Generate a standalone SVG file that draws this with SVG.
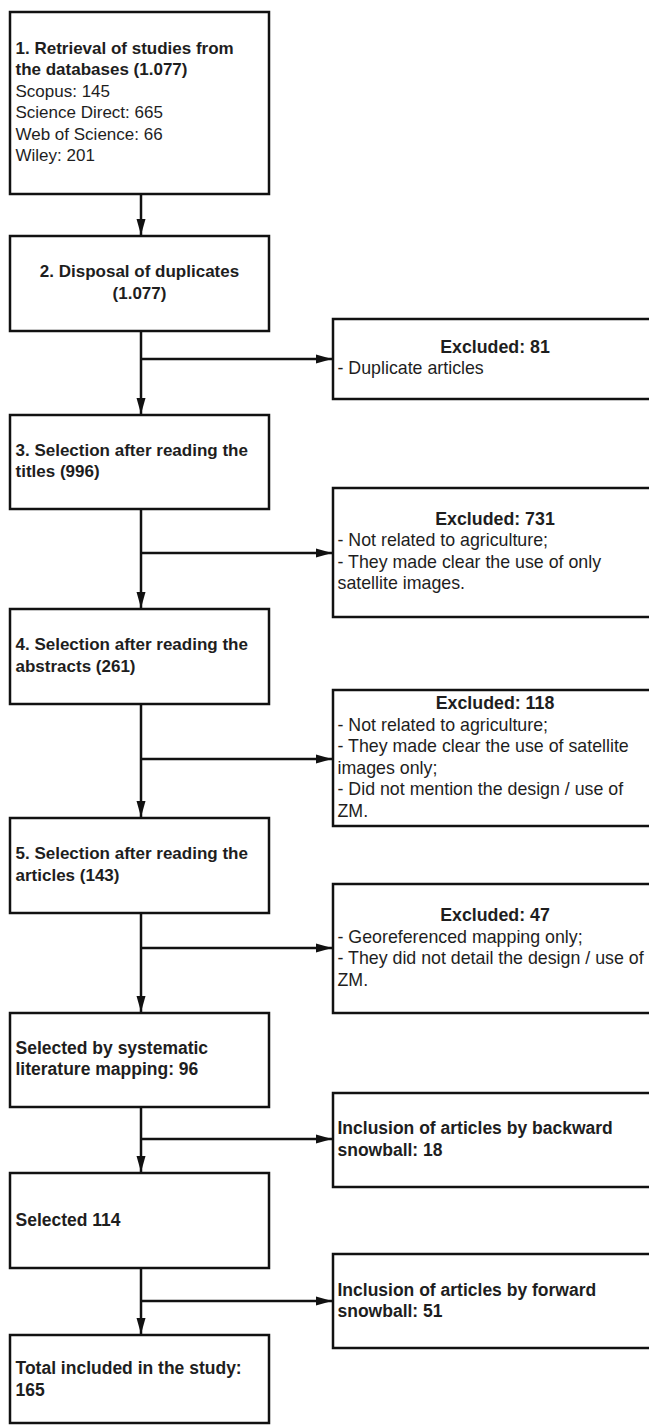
<svg xmlns="http://www.w3.org/2000/svg" width="649" height="1425" viewBox="0 0 649 1425">
  <style>
    .box { fill: #ffffff; stroke: #111111; stroke-width: 2.5; }
    .t { font-family: "Liberation Sans", Arial, sans-serif; font-size: 17px; fill: #1e1e1e; }
    .lg { font-size: 17.5px; }
    .side { font-size: 17.8px; }
    .b { font-weight: bold; }
    .mid { text-anchor: middle; }
    .edge { fill: none; stroke: #111111; stroke-width: 2.5; }
  </style>
  <defs>
    <marker id="arrow" markerUnits="userSpaceOnUse" markerWidth="16" markerHeight="10" refX="16" refY="5" orient="auto">
      <path d="M0,0.5 L16,5 L0,9.5 Z" fill="#111111"/>
    </marker>
  </defs>
  <rect width="649" height="1425" fill="#ffffff"/>

  <!-- connectors: main column at x=141, side branches to the right column -->
  <g id="connectors">
    <path class="edge" d="M141,194 V235" marker-end="url(#arrow)"/>
    <path class="edge" d="M141,331 V414" marker-end="url(#arrow)"/>
    <path class="edge" d="M141,359 H332" marker-end="url(#arrow)"/>
    <path class="edge" d="M141,509 V608" marker-end="url(#arrow)"/>
    <path class="edge" d="M141,553 H332" marker-end="url(#arrow)"/>
    <path class="edge" d="M141,704 V817" marker-end="url(#arrow)"/>
    <path class="edge" d="M141,759 H332" marker-end="url(#arrow)"/>
    <path class="edge" d="M141,913 V1012" marker-end="url(#arrow)"/>
    <path class="edge" d="M141,948 H332" marker-end="url(#arrow)"/>
    <path class="edge" d="M141,1107 V1172" marker-end="url(#arrow)"/>
    <path class="edge" d="M141,1139 H332" marker-end="url(#arrow)"/>
    <path class="edge" d="M141,1268 V1334" marker-end="url(#arrow)"/>
    <path class="edge" d="M141,1301 H332" marker-end="url(#arrow)"/>
  </g>

  <!-- main column -->
  <g id="retrieval">
    <rect class="box" x="10" y="12" width="259" height="182"/>
    <text class="t b" x="15.5" y="53.8">1. Retrieval of studies from</text>
    <text class="t b" x="15.5" y="75.3">the databases (1.077)</text>
    <text class="t" x="15.5" y="96.8">Scopus: 145</text>
    <text class="t" x="15.5" y="118.3">Science Direct: 665</text>
    <text class="t" x="15.5" y="139.8">Web of Science: 66</text>
    <text class="t" x="15.5" y="161.3">Wiley: 201</text>
  </g>
  <g id="duplicates">
    <rect class="box" x="10" y="236" width="259" height="95"/>
    <text class="t b mid" x="139.5" y="277">2. Disposal of duplicates</text>
    <text class="t b mid" x="139.5" y="298.5">(1.077)</text>
  </g>
  <g id="titles">
    <rect class="box" x="10" y="415" width="259" height="94"/>
    <text class="t b" x="15.5" y="455.8">3. Selection after reading the</text>
    <text class="t b" x="15.5" y="477.3">titles (996)</text>
  </g>
  <g id="abstracts">
    <rect class="box" x="10" y="609" width="259" height="95"/>
    <text class="t b" x="15.5" y="650">4. Selection after reading the</text>
    <text class="t b" x="15.5" y="671.5">abstracts (261)</text>
  </g>
  <g id="articles">
    <rect class="box" x="10" y="818" width="259" height="95"/>
    <text class="t b" x="15.5" y="859">5. Selection after reading the</text>
    <text class="t b" x="15.5" y="880.5">articles (143)</text>
  </g>
  <g id="mapping">
    <rect class="box" x="10" y="1013" width="259" height="94"/>
    <text class="t lg b" x="15.5" y="1053.5">Selected by systematic</text>
    <text class="t lg b" x="15.5" y="1075">literature mapping: 96</text>
  </g>
  <g id="selected">
    <rect class="box" x="10" y="1173" width="259" height="95"/>
    <text class="t lg b" x="15.5" y="1225.5">Selected 114</text>
  </g>
  <g id="total">
    <rect class="box" x="10" y="1335" width="259" height="88"/>
    <text class="t lg b" x="15.5" y="1374">Total included in the study:</text>
    <text class="t lg b" x="15.5" y="1395.5">165</text>
  </g>

  <!-- side column -->
  <g id="excluded-81">
    <rect class="box" x="333" y="319" width="324" height="80"/>
    <text class="t side b mid" x="495" y="352.5">Excluded: 81</text>
    <text class="t side" x="337.5" y="374">- Duplicate articles</text>
  </g>
  <g id="excluded-731">
    <rect class="box" x="333" y="488" width="324" height="129"/>
    <text class="t side b mid" x="495" y="524.5">Excluded: 731</text>
    <text class="t side" x="337.5" y="546">- Not related to agriculture;</text>
    <text class="t side" x="337.5" y="567.5">- They made clear the use of only</text>
    <text class="t side" x="337.5" y="589">satellite images.</text>
  </g>
  <g id="excluded-118">
    <rect class="box" x="333" y="690" width="324" height="136"/>
    <text class="t side b mid" x="495" y="709">Excluded: 118</text>
    <text class="t side" x="337.5" y="730.5">- Not related to agriculture;</text>
    <text class="t side" x="337.5" y="752">- They made clear the use of satellite</text>
    <text class="t side" x="337.5" y="773.5">images only;</text>
    <text class="t side" x="337.5" y="795">- Did not mention the design / use of</text>
    <text class="t side" x="337.5" y="816.5">ZM.</text>
  </g>
  <g id="excluded-47">
    <rect class="box" x="333" y="884" width="324" height="129"/>
    <text class="t side b mid" x="495" y="921">Excluded: 47</text>
    <text class="t side" x="337.5" y="942.5">- Georeferenced mapping only;</text>
    <text class="t side" x="337.5" y="964">- They did not detail the design / use of</text>
    <text class="t side" x="337.5" y="985.5">ZM.</text>
  </g>
  <g id="backward-snowball">
    <rect class="box" x="333" y="1093" width="324" height="94"/>
    <text class="t lg b" x="337.5" y="1134">Inclusion of articles by backward</text>
    <text class="t lg b" x="337.5" y="1155.5">snowball: 18</text>
  </g>
  <g id="forward-snowball">
    <rect class="box" x="333" y="1254" width="324" height="94"/>
    <text class="t lg b" x="337.5" y="1295.5">Inclusion of articles by forward</text>
    <text class="t lg b" x="337.5" y="1317">snowball: 51</text>
  </g>
</svg>
